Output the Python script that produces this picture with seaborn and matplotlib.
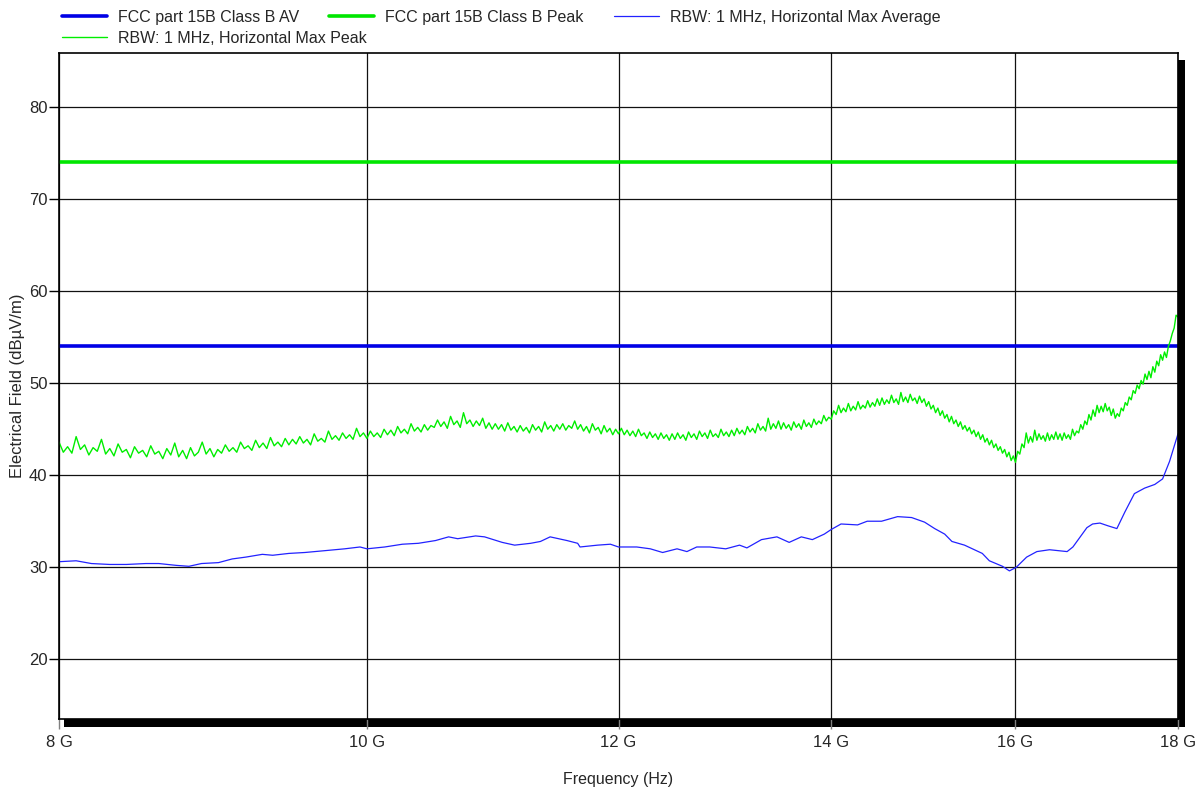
import numpy as np
import pandas as pd
import matplotlib
matplotlib.use('Agg')
import matplotlib.pyplot as plt
from matplotlib.patches import Rectangle
from matplotlib.ticker import NullLocator
import seaborn as sns

#%% data (GHz, dBuV/m)
limit_freq_ghz = [8.0, 18.0]
limit_av = [54.0, 54.0]
limit_peak = [74.0, 74.0]

avg_freq_ghz = [8.00, 8.10, 8.19, 8.30, 8.40, 8.52, 8.60, 8.71, 8.79, 8.87,
                8.98, 9.07, 9.16, 9.27, 9.34, 9.45, 9.56, 9.70, 9.84, 9.95,
                10.00, 10.13, 10.26, 10.38, 10.51, 10.61, 10.68, 10.82, 10.89, 11.03,
                11.13, 11.26, 11.34, 11.42, 11.56, 11.65, 11.67, 11.82, 11.93, 12.00,
                12.16, 12.28, 12.39, 12.52, 12.61, 12.70, 12.82, 12.97, 13.10, 13.17,
                13.31, 13.46, 13.58, 13.70, 13.81, 13.93, 14.00, 14.10, 14.27, 14.37,
                14.52, 14.69, 14.84, 14.98, 15.09, 15.20, 15.28, 15.42, 15.62, 15.70,
                15.85, 15.93, 16.01, 16.13, 16.25, 16.40, 16.61, 16.68, 16.85, 16.92,
                17.01, 17.11, 17.22, 17.32, 17.44, 17.57, 17.70, 17.80, 17.89, 18.00]
avg_level = [30.6, 30.7, 30.4, 30.3, 30.3, 30.4, 30.4, 30.2, 30.1, 30.4,
             30.5, 30.9, 31.1, 31.4, 31.3, 31.5, 31.6, 31.8, 32.0, 32.2,
             32.0, 32.2, 32.5, 32.6, 32.9, 33.3, 33.1, 33.4, 33.3, 32.7,
             32.4, 32.6, 32.8, 33.3, 32.9, 32.6, 32.2, 32.4, 32.5, 32.2,
             32.2, 32.0, 31.6, 32.0, 31.7, 32.2, 32.2, 32.0, 32.4, 32.1,
             33.0, 33.3, 32.7, 33.3, 33.0, 33.6, 34.1, 34.7, 34.6, 35.0,
             35.0, 35.5, 35.4, 34.9, 34.2, 33.6, 32.8, 32.4, 31.5, 30.7,
             30.1, 29.6, 30.0, 31.1, 31.7, 31.9, 31.7, 32.2, 34.3, 34.7,
             34.8, 34.5, 34.2, 36.0, 38.0, 38.6, 39.0, 39.6, 41.5, 44.5]

# peak trace, one value every 25 MHz (one row = 500 MHz)
peak_freq_ghz = np.linspace(8.0, 18.0, 401)
peak_level = [
    43.6, 42.5, 43.1, 42.4, 44.2, 42.8, 43.3, 42.2, 43.0, 42.6, 43.9, 42.3, 42.9, 42.1, 43.4, 42.5, 42.8, 41.9, 43.1, 42.4,
    42.7, 42.0, 43.2, 42.3, 42.6, 41.8, 42.9, 42.2, 43.5, 42.0, 42.7, 41.8, 43.0, 42.1, 42.5, 43.6, 42.3, 42.9, 42.0, 42.8,
    42.4, 43.3, 42.6, 43.0, 42.5, 43.6, 42.9, 43.2, 42.7, 43.8, 43.0, 43.5, 42.9, 44.1, 43.2, 43.6, 43.1, 44.0, 43.3, 43.9,
    43.4, 44.2, 43.5, 43.9, 43.3, 44.5, 43.7, 44.0, 43.6, 44.8, 43.9, 44.3, 43.8, 44.6, 44.0, 44.4, 43.9, 45.1, 44.2, 44.6,
    44.0, 44.8, 44.2, 44.6, 44.1, 45.0, 44.4, 44.9, 44.3, 45.3, 44.6, 45.0, 44.5, 45.6, 44.8, 45.2, 44.7, 45.5, 44.9, 45.4,
    45.2, 46.0, 45.3, 45.8, 45.1, 46.4, 45.5, 45.9, 45.2, 46.8, 45.6, 46.0, 45.3, 45.9, 45.4, 46.2, 45.1, 45.7, 45.0, 45.6,
    45.0, 45.5, 44.8, 45.7, 44.9, 45.3, 44.7, 45.4, 44.8, 45.2, 44.6, 45.5, 44.9, 45.3, 44.7, 45.8, 45.0, 45.4, 44.8, 45.5,
    45.0, 45.6, 44.9, 45.4, 45.1, 45.9, 45.0, 45.5, 44.8, 45.3, 44.6, 45.6, 44.9, 45.2, 44.5, 45.4, 44.7, 45.1, 44.4, 45.0,
    44.5, 45.1, 44.4, 44.9, 44.3, 44.8, 44.2, 45.0, 44.3, 44.6, 44.0, 44.7, 44.1, 44.5, 43.9, 44.6, 44.0, 44.4, 43.8, 44.5,
    43.9, 44.6, 44.0, 44.4, 43.8, 44.7, 44.1, 44.5, 43.9, 44.8, 44.2, 44.6, 44.0, 44.9, 44.2, 44.5, 44.1, 45.0, 44.3, 44.7,
    44.2, 44.9, 44.3, 45.1, 44.5, 44.9, 44.4, 45.3, 44.7, 45.1, 44.6, 45.6, 44.9, 45.3, 44.8, 46.2, 45.0, 45.6, 45.1, 45.9,
    45.0, 45.7, 45.1, 45.5, 44.9, 45.8, 45.2, 45.6, 45.0, 46.0, 45.3, 45.7, 45.2, 46.1, 45.5, 45.9, 45.6, 46.5, 45.9, 46.3,
    46.1, 47.0, 46.6, 47.6, 46.8, 47.3, 46.9, 47.8, 47.0, 47.5, 47.1, 48.0, 47.2, 47.6, 47.3, 48.1, 47.4, 47.9, 47.5, 48.3,
    47.6, 48.4, 47.7, 48.2, 47.8, 48.7, 47.9, 48.3, 47.7, 49.0, 48.0, 48.5, 47.9, 48.8, 48.1, 48.4, 47.8, 48.6, 47.9, 48.3,
    47.5, 48.0, 47.2, 47.6, 46.8, 47.3, 46.5, 47.0, 46.2, 46.6, 45.8, 46.4, 45.6, 46.0, 45.3, 45.8, 45.0, 45.4, 44.8, 45.2,
    44.5, 44.9, 44.2, 44.7, 43.9, 44.4, 43.6, 44.0, 43.3, 43.8, 43.0, 43.4, 42.7, 43.1, 42.4, 42.8, 42.0, 42.5, 41.6, 42.1,
    41.4, 42.6, 42.3, 43.4, 43.0, 44.6, 43.5, 44.2, 43.6, 44.9, 43.8, 44.5, 43.9, 44.3, 43.7, 44.6, 43.8, 44.4, 43.9, 44.7,
    43.9, 44.5, 43.8, 44.6, 44.0, 44.4, 43.9, 45.0, 44.3, 44.8, 44.6, 45.5, 45.0, 45.9, 45.5, 46.6, 46.0, 47.1, 46.4, 47.6,
    46.8, 47.5, 46.9, 47.8, 47.0, 47.4, 46.5, 47.2, 46.2, 46.7, 46.4, 47.3, 47.0, 47.9, 47.6, 48.5, 48.2, 49.2, 48.9, 49.8,
    49.4, 50.3, 49.9, 51.0, 50.4, 51.3, 50.6, 51.8, 51.2, 52.4, 51.9, 53.1, 52.5, 53.4, 52.8, 54.0, 54.6, 55.4, 56.0, 57.4,
    57.2]

series_labels = ['FCC part 15B Class B AV', 'FCC part 15B Class B Peak',
                 'RBW: 1 MHz, Horizontal Max Average', 'RBW: 1 MHz, Horizontal Max Peak']
xtick_ghz = [8, 10, 12, 14, 16, 18]
xtick_labels = ['8 G', '10 G', '12 G', '14 G', '16 G', '18 G']

df_lim = pd.DataFrame({'freq': np.array(limit_freq_ghz) * 1e9, 'av': limit_av, 'peak': limit_peak})
df_avg = pd.DataFrame({'freq': np.array(avg_freq_ghz) * 1e9, 'level': avg_level})
df_peak = pd.DataFrame({'freq': peak_freq_ghz * 1e9, 'level': peak_level})

#%% plot
sns.set_style('white')
plt.rcParams['font.family'] = ['Liberation Sans', 'DejaVu Sans']
fs = 12
fs_leg = 11.5

W, H = 1203, 794
fig = plt.figure(figsize=(W / 100, H / 100), dpi=100)
ax = fig.add_axes([59 / W, 75 / H, 1119 / W, 666 / H])

# drop shadow behind the plot box
fig.add_artist(Rectangle((64 / W, 67 / H), 1121 / W, 667 / H, transform=fig.transFigure,
                         facecolor='black', edgecolor='none', zorder=-1))

sns.lineplot(data=df_lim, x='freq', y='av', color='#0000e6', lw=2.6, ax=ax, legend=False)
sns.lineplot(data=df_lim, x='freq', y='peak', color='#00e600', lw=2.6, ax=ax, legend=False)
sns.lineplot(data=df_avg, x='freq', y='level', color='#2222ff', lw=0.9, ax=ax, legend=False)
sns.lineplot(data=df_peak, x='freq', y='level', color='#00ee00', lw=1.0, ax=ax, legend=False)

ax.set_xscale('log')
ax.set_xlim(8e9, 18e9)
ax.set_xticks([v * 1e9 for v in xtick_ghz], xtick_labels)
ax.xaxis.set_minor_locator(NullLocator())
ax.set_ylim(13.5, 85.9)
ax.set_yticks(range(20, 81, 10))
ax.set_yticks(np.arange(15, 86, 10), minor=True)

ax.tick_params(axis='y', which='major', direction='out', length=7.2, width=1,
               color='black', pad=1, labelsize=fs)
ax.tick_params(axis='y', which='minor', direction='in', length=5.8, width=1, color='black')
ax.tick_params(axis='x', which='major', direction='out', length=7.2, width=1,
               color='gray', pad=4, labelsize=fs)
ax.tick_params(left=True, bottom=True)
ax.grid(True, which='major', color='#111111', lw=0.9)

for side in ['left', 'top', 'bottom', 'right']:
    ax.spines[side].set_color('black')
    ax.spines[side].set_linewidth(1.2)

ax.set_xlabel('Frequency (Hz)', fontsize=fs_leg, labelpad=16)
ax.set_ylabel('Electrical Field (dBµV/m)', fontsize=fs, labelpad=3)

# legend flows over two rows above the plot
handles = ax.get_lines()
leg_kw = dict(frameon=False, fontsize=fs_leg, handlelength=2.8, handletextpad=0.7,
              borderpad=0, borderaxespad=0)
fig.legend(handles[:3], series_labels[:3], loc='upper left', bbox_to_anchor=(62 / W, 1 - 10 / H),
           ncol=3, columnspacing=1.9, **leg_kw)
fig.legend(handles[3:], series_labels[3:], loc='upper left', bbox_to_anchor=(62 / W, 1 - 31 / H),
           **leg_kw)

fig.savefig('out.png', dpi=100)
